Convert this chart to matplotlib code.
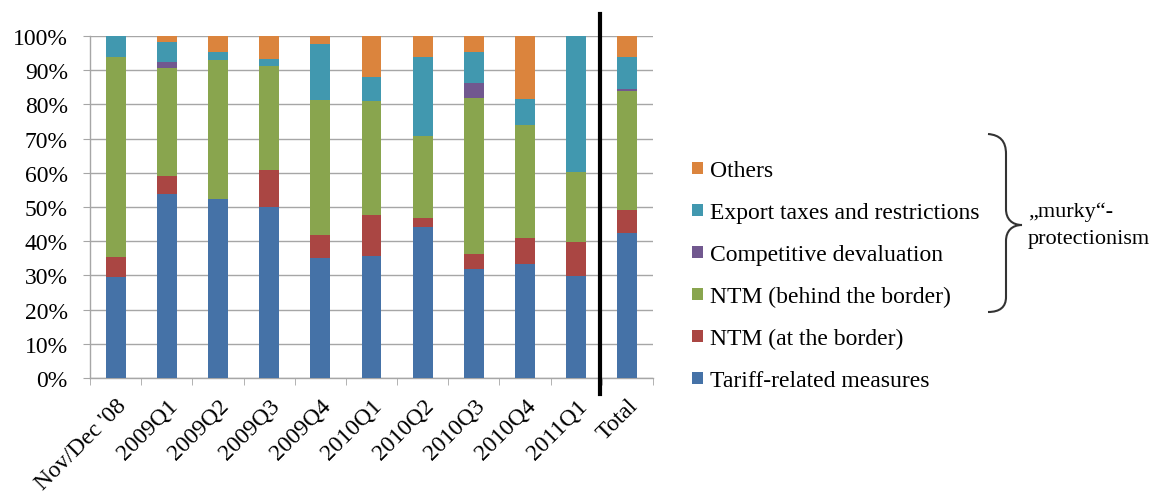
import numpy as np
import matplotlib
matplotlib.use("Agg")
import matplotlib.pyplot as plt
from matplotlib.patches import Rectangle, PathPatch
from matplotlib.path import Path

plt.rcParams['font.family'] = ['Liberation Serif', 'DejaVu Serif']

# categories and shares (%)
categories = ["Nov/Dec '08", "2009Q1", "2009Q2", "2009Q3", "2009Q4", "2010Q1",
              "2010Q2", "2010Q3", "2010Q4", "2011Q1", "Total"]
tariff = [29.4, 53.7, 52.3, 50.0, 35.0, 35.7, 44.1, 31.8, 33.3, 29.9, 42.4]
ntm_border = [6.0, 5.4, 0.0, 10.8, 6.8, 11.9, 2.7, 4.4, 7.5, 10.0, 6.6]
ntm_behind = [58.6, 31.5, 40.8, 30.4, 39.5, 33.4, 24.0, 45.6, 33.2, 20.2, 34.9]
comp_deval = [0.0, 1.9, 0.0, 0.0, 0.0, 0.0, 0.0, 4.4, 0.0, 0.0, 0.7]
export_tax = [6.0, 5.6, 2.3, 2.2, 16.3, 6.9, 23.2, 9.2, 7.5, 39.9, 9.4]
others = [0.0, 1.9, 4.6, 6.6, 2.4, 12.1, 6.0, 4.6, 18.5, 0.0, 6.0]

series = [
    ("Tariff-related measures", tariff, "#4572A7"),
    ("NTM (at the border)", ntm_border, "#AA4643"),
    ("NTM (behind the border)", ntm_behind, "#89A54E"),
    ("Competitive devaluation", comp_deval, "#71588F"),
    ("Export taxes and restrictions", export_tax, "#4198AF"),
    ("Others", others, "#DB843D"),
]

W, H = 1152, 502
fig = plt.figure(figsize=(W / 100, H / 100), dpi=100)
ax = fig.add_axes([90 / W, 1 - 379 / H, 563 / W, 342 / H])

x = np.arange(len(categories))
bottom = np.zeros(len(categories))
for name, vals, col in series:
    ax.bar(x, vals, width=0.39, bottom=bottom, color=col, zorder=3, linewidth=0)
    bottom += np.array(vals)

ax.set_xlim(-0.5, len(categories) - 0.5)
ax.set_ylim(0, 100)
ax.set_yticks(np.arange(0, 101, 10))
ax.set_yticklabels([f"{v}%" for v in range(0, 101, 10)], fontsize=17)
ax.yaxis.grid(True, color="#A6A6A6", linewidth=1.0, zorder=0)

ax.set_xticks(x)
ax.set_xticklabels(categories, rotation=45, ha="right", rotation_mode="anchor", fontsize=17)
ax.set_xticks(np.arange(-0.5, len(categories)), minor=True)
ax.tick_params(axis="x", which="major", length=0, pad=12)
ax.tick_params(axis="x", which="minor", length=5, color="#A6A6A6", direction="out")
ax.tick_params(axis="y", length=5, color="#A6A6A6", pad=11)

for s in ["top", "right"]:
    ax.spines[s].set_visible(False)
for s in ["left", "bottom"]:
    ax.spines[s].set_color("#A6A6A6")
    ax.spines[s].set_linewidth(1.0)

# thick divider before the "Total" bar
div_x = len(categories) - 1.53
ax.plot([div_x, div_x], [-4.7, 106.4], color="black", lw=3, clip_on=False, zorder=5)

# legend, top entry first
for i, (name, vals, col) in enumerate(reversed(series)):
    base = 177 + 42 * i
    fig.add_artist(Rectangle((692 / W, 1 - (base - 2) / H), 11 / W, 12 / H,
                             transform=fig.transFigure, color=col, lw=0))
    fig.text(710 / W, 1 - base / H, name, fontsize=17, va="baseline", ha="left")

# brace grouping the "murky" measures
pts = [(988, 135), (1000, 136), (1006, 142), (1006, 155),
       (1006, 210),
       (1006, 220), (1012, 226), (1022, 226),
       (1012, 226), (1006, 232), (1006, 242),
       (1006, 298),
       (1006, 308), (1000, 313), (988, 313)]
codes = [Path.MOVETO, Path.CURVE4, Path.CURVE4, Path.CURVE4,
         Path.LINETO,
         Path.CURVE4, Path.CURVE4, Path.CURVE4,
         Path.CURVE4, Path.CURVE4, Path.CURVE4,
         Path.LINETO,
         Path.CURVE4, Path.CURVE4, Path.CURVE4]
verts = [(px / W, 1 - py / H) for px, py in pts]
fig.add_artist(PathPatch(Path(verts, codes), transform=fig.transFigure,
                         fill=False, edgecolor="#333333", lw=1.5))
fig.text(1028 / W, 1 - 217 / H, "\u201emurky\u201c-", fontsize=16, va="baseline")
fig.text(1028 / W, 1 - 244 / H, "protectionism", fontsize=16, va="baseline")

fig.savefig("out.png", dpi=100)
